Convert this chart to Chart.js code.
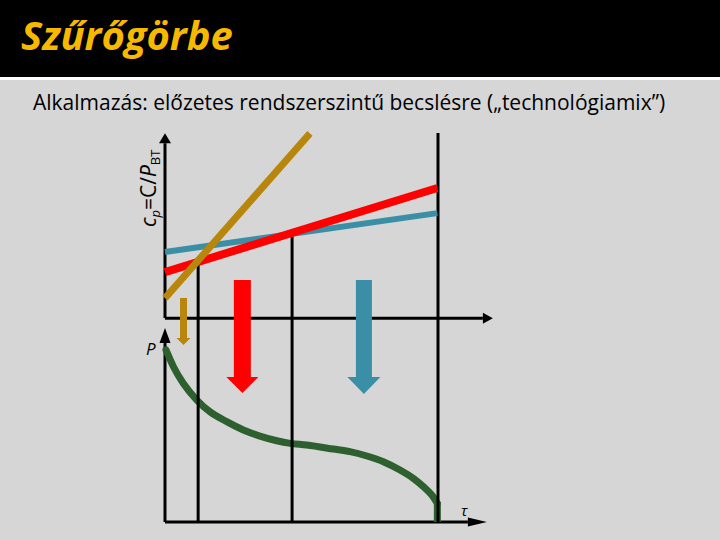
<!DOCTYPE html>
<html lang="hu">
<head>
<meta charset="utf-8">
<title>Szűrőgörbe</title>
<script src="https://cdn.jsdelivr.net/npm/chart.js@4.4.1/dist/chart.umd.min.js"></script>
<style>
  html, body { margin: 0; padding: 0; }
  body {
    width: 720px; height: 540px; position: relative; overflow: hidden;
    background: #d6d6d6; font-family: 'Open Sans', 'DejaVu Sans', sans-serif;
  }
  .header { position: absolute; left: 0; top: 0; width: 720px; height: 77px; background: #000; border-bottom: 3px solid #fff; }
  .title {
    position: absolute; left: 21px; top: 15px; margin: 0;
    color: #f7b900; font-size: 40px; line-height: 1; font-weight: bold; font-style: italic;
  }
  .subtitle { position: absolute; left: 33px; top: 92px; font-size: 21px; line-height: 1; color: #000; white-space: nowrap; }
  .ylabel {
    position: absolute; left: 138px; top: 227px; font-size: 21px; line-height: 1; white-space: nowrap;
    transform-origin: 0 0; transform: rotate(-90deg);
  }
  .ylabel sub { font-size: 0.62em; vertical-align: baseline; position: relative; top: 0.3em; }
  .plabel { position: absolute; left: 146px; top: 340px; font-size: 17px; line-height: 1; font-style: italic; }
  .taulabel { position: absolute; left: 461px; top: 503px; font-size: 15px; line-height: 1; font-style: italic; }
  #wrap { position: absolute; left: 0; top: 0; width: 720px; height: 540px; }
</style>
</head>
<body>
<div class="header"></div>
<h1 class="title">Szűrőgörbe</h1>
<div class="subtitle">Alkalmazás: előzetes rendszerszintű becslésre („technológiamix”)</div>
<div class="ylabel"><i>c</i><sub><i>p</i></sub>=C/<i>P</i><sub>BT</sub></div>
<div class="plabel">P</div>
<div class="taulabel">τ</div>
<div id="wrap"><canvas id="filterChart"></canvas></div>

<script>
// közös vízszintes skála (τ)
const tauMin = 0, tauMax = 100;
// felső diagram skálája (c_p), lefelé a nyilak miatt negatívba is nyúlik
const cpMin = -112, cpMax = 105;
// alsó diagram skálája (P)
const pMin = 0, pMax = 228;

// technológiák egyenesei c_p(τ)
const goldTau = [0, 44.6];
const goldCp = [11.0, 101.5];
const redTau = [0, 83.8];
const redCp = [25.3, 71.5];
const blueTau = [0, 83.8];
const blueCp = [36.3, 57.7];

// függőleges határvonalak (metszéspontok)
const boundaryTau = [10.2, 39.1, 84.0];
const boundaryCp = [31.4, 47.9, 101.7];

// szűrőgörbe P(τ)
const curveTau = [0.3, 2.6, 5.6, 9.8, 13.8, 19.0, 24.1, 29.2, 34.4, 38.5, 43.6, 51.8, 56.9, 62.1, 67.2, 72.3, 76.4, 79.5, 82.1, 83.8];
const curveP = [99.3, 89.6, 80.1, 70.4, 63.7, 57.9, 53.1, 49.6, 46.9, 45.4, 44.4, 42.1, 40.6, 38.1, 34.8, 30.0, 25.2, 20.4, 15.6, 10.8];
// a görbe függőleges vége
const tailTau = [83.8, 83.8];
const tailP = [11.5, 0];

// lefelé mutató nyilak (tartományok)
const arrowTau = [5.7, 23.8, 61.2];
const arrowTopCp = [11.0, 20.9, 20.9];
const arrowBaseCp = [-10.9, -32.4, -32.4];

const GOLD = '#b8860b';
const RED = '#ff0000';
const BLUE = '#3a8fa7';
const GREEN = '#2e5f2f';
const BLACK = '#000000';

const pts = (xs, ys) => xs.map((x, i) => ({ x: x, y: ys[i] }));

// nyílhegy rajzolása a dataset utolsó szakaszának irányában
const arrowHeadPlugin = {
    id: 'arrowHead',
    afterDatasetDraw(chart, args) {
        const ds = chart.data.datasets[args.index];
        if (!ds.head) return;
        const p = args.meta.data;
        const a = p[p.length - 2], b = p[p.length - 1];
        const ang = Math.atan2(b.y - a.y, b.x - a.x);
        const ctx = chart.ctx;
        ctx.save();
        ctx.translate(b.x, b.y);
        ctx.rotate(ang);
        ctx.beginPath();
        ctx.moveTo(ds.head.len, 0);
        ctx.lineTo(0, -ds.head.width / 2);
        ctx.lineTo(0, ds.head.width / 2);
        ctx.closePath();
        ctx.fillStyle = ds.borderColor;
        ctx.fill();
        ctx.restore();
    }
};

const base = { pointRadius: 0, tension: 0, fill: false, clip: false, borderCapStyle: 'butt' };

const datasets = [];

// nyilak (legfelül)
const arrowColors = [GOLD, RED, BLUE];
const arrowShaft = [7, 17, 16];
const arrowHeads = [{ len: 7, width: 14 }, { len: 16, width: 32 }, { len: 17, width: 33 }];
arrowTau.forEach((t, i) => {
    datasets.push({ ...base, label: 'nyíl ' + (i + 1), yAxisID: 'yc', order: 0,
        data: pts([t, t], [arrowTopCp[i], arrowBaseCp[i]]),
        borderColor: arrowColors[i], borderWidth: arrowShaft[i], head: arrowHeads[i] });
});

datasets.push({ ...base, label: 'arany', yAxisID: 'yc', order: 1, data: pts(goldTau, goldCp), borderColor: GOLD, borderWidth: 7 });
datasets.push({ ...base, label: 'piros', yAxisID: 'yc', order: 2, data: pts(redTau, redCp), borderColor: RED, borderWidth: 8 });
datasets.push({ ...base, label: 'kék', yAxisID: 'yc', order: 3, data: pts(blueTau, blueCp), borderColor: BLUE, borderWidth: 6 });

// határvonalak: a c_p értéktől le az alsó τ tengelyig
boundaryTau.forEach((t, i) => {
    datasets.push({ ...base, label: 'határ ' + (i + 1), yAxisID: 'yc', order: 4,
        data: pts([t, t], [boundaryCp[i], cpMin]), borderColor: BLACK, borderWidth: 3 });
});

datasets.push({ ...base, label: 'szűrőgörbe', yAxisID: 'yp', order: 5, data: pts(curveTau, curveP),
    borderColor: GREEN, borderWidth: 7, cubicInterpolationMode: 'monotone', borderCapStyle: 'round' });
datasets.push({ ...base, label: 'szűrőgörbe vége', yAxisID: 'yp', order: 5, data: pts(tailTau, tailP),
    borderColor: GREEN, borderWidth: 7 });

// tengelyek nyíllal
datasets.push({ ...base, label: 'c_p tengely', yAxisID: 'yc', order: 6, data: pts([0, 0], [0, 96.1]),
    borderColor: BLACK, borderWidth: 3, head: { len: 10, width: 12 } });
datasets.push({ ...base, label: 'τ tengely (felső)', yAxisID: 'yc', order: 6, data: pts([0, 97.8], [0, 0]),
    borderColor: BLACK, borderWidth: 3, head: { len: 10, width: 11 } });
datasets.push({ ...base, label: 'P tengely', yAxisID: 'yp', order: 6, data: pts([0, 0], [0, 103.3]),
    borderColor: BLACK, borderWidth: 3, head: { len: 15, width: 11 } });
datasets.push({ ...base, label: 'τ tengely (alsó)', yAxisID: 'yp', order: 6, data: pts([0, 93.2], [0, 0]),
    borderColor: BLACK, borderWidth: 3, head: { len: 19, width: 9 } });

new Chart(document.getElementById('filterChart'), {
    type: 'line',
    data: { datasets: datasets },
    plugins: [arrowHeadPlugin],
    options: {
        responsive: true,
        maintainAspectRatio: false,
        animation: false,
        layout: { padding: { left: 165, right: 230, top: 127, bottom: 18 } },
        plugins: { legend: { display: false }, tooltip: { enabled: false }, title: { display: false } },
        scales: {
            x: { type: 'linear', min: tauMin, max: tauMax, display: false },
            yc: { type: 'linear', min: cpMin, max: cpMax, display: false },
            yp: { type: 'linear', min: pMin, max: pMax, display: false }
        }
    }
});
</script>
</body>
</html>
